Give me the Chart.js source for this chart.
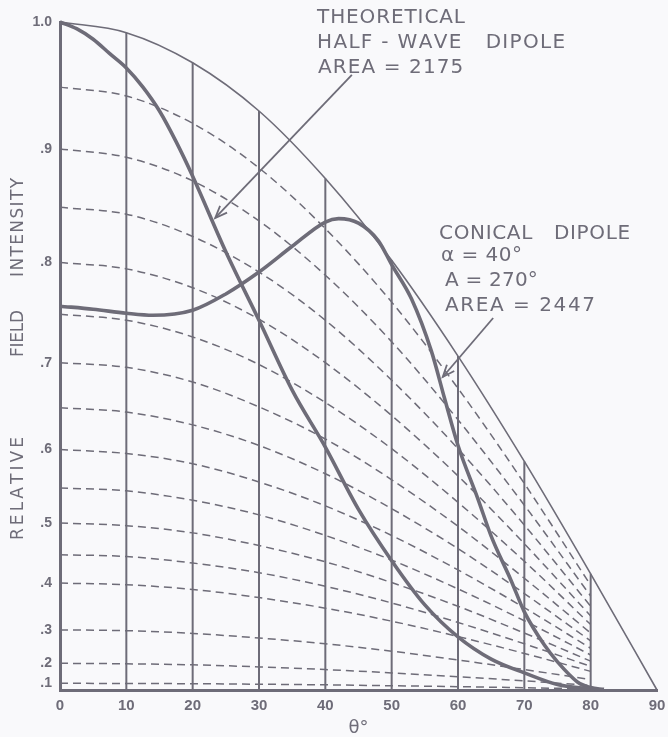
<!DOCTYPE html>
<html><head><meta charset="utf-8">
<script src="https://cdn.jsdelivr.net/npm/chart.js@4/dist/chart.umd.min.js"></script>
<style>html,body{margin:0;padding:0;background:#f9f9fb;}canvas{display:block}</style>
</head><body>
<canvas id="c" width="668" height="737"></canvas>
<script>
// ---- data (field values; y axis is square-law) ----
const dashedAngles = [0,10,20,30,40,50,60,70,80];
const envelopeAngles = [0,10,20,30,40,50,60,70,80,90];
const envelopeField = [1.0,0.992,0.969,0.931,0.875,0.802,0.707,0.585,0.417,0];
const gridAngles = [10,20,30,40,50,60,70,80];

const dashed95 = [0.950,0.943,0.921,0.884,0.831,0.762,0.672,0.556,0.396];
const dashed90 = [0.900,0.893,0.873,0.838,0.788,0.722,0.636,0.526,0.375];
const dashed85 = [0.850,0.844,0.824,0.791,0.744,0.681,0.601,0.497,0.354];
const dashed80 = [0.800,0.794,0.776,0.745,0.700,0.641,0.566,0.468,0.333];
const dashed75 = [0.750,0.744,0.727,0.698,0.656,0.601,0.530,0.439,0.313];
const dashed70 = [0.700,0.695,0.679,0.651,0.613,0.561,0.495,0.409,0.292];
const dashed65 = [0.650,0.645,0.630,0.605,0.569,0.521,0.460,0.380,0.271];
const dashed60 = [0.600,0.595,0.582,0.558,0.525,0.481,0.424,0.351,0.250];
const dashed55 = [0.550,0.546,0.533,0.512,0.481,0.441,0.389,0.322,0.229];
const dashed50 = [0.500,0.496,0.485,0.465,0.438,0.401,0.354,0.292,0.208];
const dashed45 = [0.450,0.447,0.436,0.419,0.394,0.361,0.318,0.263,0.188];
const dashed40 = [0.400,0.397,0.388,0.372,0.350,0.321,0.283,0.234,0.167];
const dashed30 = [0.300,0.298,0.291,0.279,0.263,0.241,0.212,0.175,0.125];
const dashed20 = [0.200,0.198,0.194,0.186,0.175,0.160,0.141,0.117,0.083];
const dashed10 = [0.100,0.099,0.097,0.093,0.088,0.080,0.071,0.058,0.042];
const dashedSeries = [dashed95,dashed90,dashed85,dashed80,dashed75,dashed70,dashed65,
  dashed60,dashed55,dashed50,dashed45,dashed40,dashed30,dashed20,dashed10];

const halfWaveAngles = [0,2.5,5,7.5,10,12.5,15,17.5,20,25,30,35,40,45,50,55,60,65,70,75,80];
const halfWaveField  = [1.0,0.995,0.987,0.976,0.965,0.950,0.931,0.906,0.877,0.81,0.744,0.67,0.603,0.52,0.44,0.357,0.282,0.215,0.16,0.09,0.035];

const conicalAngles = [0,5,10,14,20,25,30,35,40,42,45,48,50,53,56,58,60,63,65,68,70,73,75,78,80,82];
const conicalField  = [0.758,0.755,0.751,0.749,0.754,0.77,0.791,0.815,0.837,0.84,0.836,0.82,0.798,0.765,0.712,0.66,0.605,0.535,0.48,0.405,0.342,0.26,0.205,0.11,0.06,0.03];

const xTickValues = [0,10,20,30,40,50,60,70,80,90];
const yTickValues = [0.1,0.2,0.3,0.4,0.5,0.6,0.7,0.8,0.9,1.0];
const yTickLabels = ['.1','.2','.3','.4','.5','.6','.7','.8','.9','1.0'];

// ---- build ----
const INK = '#6e6c78';
const sq = v => v * v;   // square-law (power) axis
const pts = (xs, ys) => xs.map((x, i) => ({x, y: sq(ys[i])}));

const datasets = [];
datasets.push({data: pts(halfWaveAngles, halfWaveField), borderColor: INK, borderWidth: 3.6, cubicInterpolationMode: 'monotone'});
datasets.push({data: pts(conicalAngles, conicalField), borderColor: INK, borderWidth: 3.6, cubicInterpolationMode: 'monotone'});
datasets.push({data: pts(envelopeAngles, envelopeField), borderColor: INK, borderWidth: 1.6, cubicInterpolationMode: 'monotone'});
gridAngles.forEach(g => {
  const v = envelopeField[envelopeAngles.indexOf(g)];
  datasets.push({data: [{x: g, y: 0}, {x: g, y: sq(v)}], borderColor: INK, borderWidth: 2});
});
dashedSeries.forEach(s => {
  datasets.push({data: pts(dashedAngles, s), borderColor: INK, borderWidth: 1.5, borderDash: [8, 5], cubicInterpolationMode: 'monotone'});
});
datasets.forEach(d => { d.pointRadius = 0; d.fill = false; d.clip = false; });

// annotations in data coordinates (theta, power)
const notes = [
  {text: 'THEORETICAL',          x: 38.75, p: 1.0067, w: 22.3},
  {text: 'HALF - WAVE   DIPOLE', x: 38.75, p: 0.9693, w: 37.4},
  {text: 'AREA = 2175',          x: 38.9,  p: 0.9319, w: 21.9},
  {text: 'CONICAL   DIPOLE',     x: 57.14, p: 0.6834, w: 28.8},
  {text: 'α = 40°',              x: 57.44, p: 0.6504, w: 12.2},
  {text: 'A = 270°',             x: 58.04, p: 0.6130, w: 14.0},
  {text: 'AREA = 2447',          x: 58.04, p: 0.5756, w: 22.6}
];
const arrows = [
  {from: [44.0, 0.9207], to: [23.4, 0.7066]},
  {from: [65.3, 0.5569], to: [57.7, 0.4686]}
];
const yTitleWords = [
  {text: 'RELATIVE', p: 0.3016, len: 103},
  {text: 'FIELD', p: 0.5337, len: 47},
  {text: 'INTENSITY', p: 0.6924, len: 99}
];

function drawSpaced(ctx, text, x, y, width) {
  const chars = [...text];
  const ws = chars.map(c => ctx.measureText(c).width);
  const total = ws.reduce((a, b) => a + b, 0);
  const gap = chars.length > 1 ? (width - total) / (chars.length - 1) : 0;
  let cx = x;
  chars.forEach((c, i) => { ctx.fillText(c, cx, y); cx += ws[i] + gap; });
}

const annotate = {
  id: 'annotate',
  afterDatasetsDraw(chart) {
    const {ctx, scales: {x, y}} = chart;
    ctx.save();
    ctx.fillStyle = INK;
    ctx.strokeStyle = INK;
    ctx.textBaseline = 'middle';
    ctx.textAlign = 'left';
    ctx.font = '20px "DejaVu Sans", sans-serif';
    notes.forEach(n => {
      const px = x.getPixelForValue(n.x), py = y.getPixelForValue(n.p);
      const pw = x.getPixelForValue(n.x + n.w) - px;
      drawSpaced(ctx, n.text, px, py, pw);
    });
    ctx.lineWidth = 1.8;
    arrows.forEach(a => {
      const x0 = x.getPixelForValue(a.from[0]), y0 = y.getPixelForValue(a.from[1]);
      const x1 = x.getPixelForValue(a.to[0]), y1 = y.getPixelForValue(a.to[1]);
      ctx.beginPath(); ctx.moveTo(x0, y0); ctx.lineTo(x1, y1); ctx.stroke();
      const ang = Math.atan2(y0 - y1, x0 - x1);
      const L = 13, s = 0.38;
      ctx.beginPath();
      ctx.moveTo(x1 + L * Math.cos(ang + s), y1 + L * Math.sin(ang + s));
      ctx.lineTo(x1, y1);
      ctx.lineTo(x1 + L * Math.cos(ang - s), y1 + L * Math.sin(ang - s));
      ctx.stroke();
    });
    // y-axis title words
    ctx.font = '17px "DejaVu Sans", sans-serif';
    yTitleWords.forEach(wd => {
      const cy = y.getPixelForValue(wd.p);
      ctx.save();
      ctx.translate(18.5, cy);
      ctx.rotate(-Math.PI / 2);
      drawSpaced(ctx, wd.text, -wd.len / 2, 0, wd.len);
      ctx.restore();
    });
    ctx.restore();
  }
};

const bg = {
  id: 'bg',
  beforeDraw(chart) {
    const {ctx, width, height} = chart;
    ctx.save(); ctx.fillStyle = '#f9f9fb'; ctx.fillRect(0, 0, width, height); ctx.restore();
  }
};

new Chart(document.getElementById('c'), {
  type: 'line',
  data: {datasets},
  plugins: [bg, annotate],
  options: {
    responsive: false,
    devicePixelRatio: 1,
    animation: false,
    events: [],
    layout: {padding: {top: 22, right: 11, left: 0, bottom: 0}},
    plugins: {legend: {display: false}, tooltip: {enabled: false}},
    scales: {
      x: {
        type: 'linear', min: 0, max: 90,
        afterFit(s) { s.height = 47; s.paddingLeft = 0; s.paddingRight = 0; },
        afterBuildTicks(s) { s.ticks = xTickValues.map(v => ({value: v})); },
        grid: {display: false, drawTicks: false},
        border: {display: true, color: INK, width: 3},
        ticks: {autoSkip: false, maxRotation: 0, padding: 7, color: INK,
                font: {family: '"Liberation Sans", sans-serif', size: 15, weight: 'bold'}},
        title: {display: true, text: 'θ°', color: INK, padding: {top: 0, bottom: -2},
                font: {family: '"DejaVu Sans", sans-serif', size: 18}}
      },
      y: {
        type: 'linear', min: 0, max: 1,
        afterFit(s) { s.width = 60; s.paddingTop = 0; s.paddingBottom = 0; },
        afterBuildTicks(s) { s.ticks = yTickValues.map(v => ({value: sq(v)})); },
        grid: {display: false, drawTicks: false},
        border: {display: true, color: INK, width: 3},
        ticks: {autoSkip: false, padding: 8, color: INK,
                font: {family: '"Liberation Sans", sans-serif', size: 14, weight: 'bold'},
                callback: (val, idx) => yTickLabels[idx]}
      }
    }
  }
});
</script>
</body></html>
